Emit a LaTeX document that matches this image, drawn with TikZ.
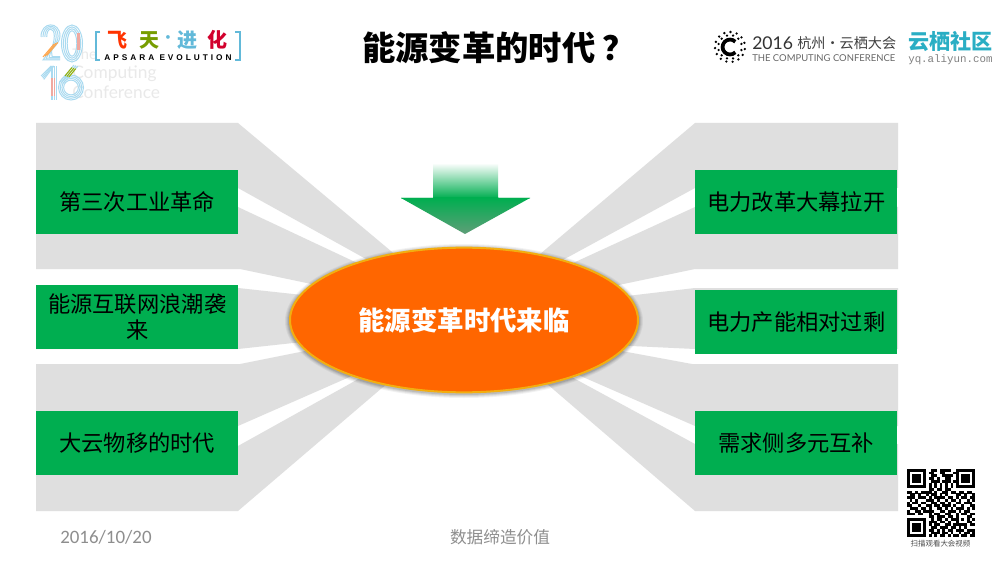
\documentclass[tikz,border=0pt]{standalone}
\usepackage{fontspec}
\setmainfont{Noto Sans CJK SC}
\newfontfamily\latinfont{Liberation Sans}
\newfontfamily\carlitofont{Carlito}
\newfontfamily\monofont{Liberation Mono}
\newfontfamily\latofont{Lato}
\usetikzlibrary{shapes.geometric}
\definecolor{graybg}{HTML}{DFDFDF}
\definecolor{boxgreen}{HTML}{00AE50}
\definecolor{arrowend}{HTML}{5F9E78}
\definecolor{orangefill}{HTML}{FF6600}
\definecolor{goldline}{HTML}{F2AE10}
\definecolor{footgray}{HTML}{8E8E8E}
\definecolor{digitblue}{HTML}{A9DAF0}
\definecolor{digitpink}{HTML}{F0A9A0}
\definecolor{brackblue}{HTML}{62B9D9}
\definecolor{teal}{HTML}{2AAEC4}
\definecolor{faint}{HTML}{E9E9E9}
\newcommand{\fsz}[1]{\fontsize{#1}{#1}\selectfont}
\newcount\qrcol
\newcount\qrrow
\makeatletter
\def\qrscan#1{\ifx#1\relax\else
  \ifx#11\fill[black] ({907+2.72*\the\qrcol},{469+2.72*\the\qrrow}) rectangle ++(2.76,2.76);\fi
  \global\advance\qrcol by 1
  \expandafter\qrscan\fi}
\def\qrline#1{\global\qrcol=0 \qrscan#1\relax\global\advance\qrrow by 1 }
\makeatother
\tikzset{
  x=0.75pt,y=-0.75pt,
  graywedge/.style={fill=graybg,draw=none},
  itembox/.style={rectangle,fill=boxgreen,draw=none,minimum width=151.5pt,minimum height=48pt,inner sep=0pt,align=center,text=black,font=\fsz{16.7},anchor=north west},
  digitline/.style={draw=digitblue,line width=0.75pt},
  pinkline/.style={draw=digitpink,line width=0.75pt},
}
\begin{document}
\begin{tikzpicture}
\useasboundingbox (0,0) rectangle (1000,563);
\fill[white] (0,0) rectangle (1000,563);
% left logo: faint text
\node[text=faint,font=\latofont\fsz{11},anchor=west,inner sep=0] (lgA) at (72,54) {The};
\node[text=faint,font=\latofont\fsz{13},anchor=west,inner sep=0] (lgB) at (72,74) {Computing};
\node[text=faint,font=\latofont\fsz{13},anchor=west,inner sep=0] (lgC) at (72,92) {Conference};
% digits
\foreach \d in {0,1.9,3.8,5.7}{
  \draw[digitline] (41+\d,37) .. controls (41+\d,21+\d) and (60-\d,21+\d) .. (60-\d,36) .. controls (60-\d,44) and (50,50) .. (43+\d*1.6,60-\d*0.6) -- (60,60-\d*0.6);
  \draw[digitline] (72,43.5) ellipse ({10.5-\d} and {18.5-\d});
  \draw[digitline] (51+\d,100) -- (51+\d,66);
  \draw[digitline] (41+\d*0.5,76+\d*0.6) -- (51+\d*0.5,66);
  \draw[digitline] (71,87.5) circle ({12.5-\d*0.9});
}
\foreach \d in {0,1.9,3.8}{
  \draw[pinkline] (77.5+\d*0.6,33) -- (77.5+\d*0.6,50);
  \draw[pinkline] (51+\d,96) -- (51+\d,78);
  \draw[draw=orange!70,line width=0.75pt] (43+\d,57-\d*0.4) -- (54+\d,44-\d*0.4);
  \draw[draw=digitblue,line width=0.75pt] (59.5+\d,82+\d*0.3) -- (74+\d,65+\d*0.3);
  \draw[draw=orange!60!green,line width=0.75pt] (65+\d,76+\d*0.3) -- (72+\d,67.5+\d*0.3);
}
% brackets
\draw[brackblue,line width=1.3pt] (100,32) -- (96,32) -- (96,60) -- (100,60);
\draw[brackblue,line width=1.3pt] (235,32) -- (240,32) -- (240,60) -- (235,60);
\node[font=\bfseries\fsz{15},text=red!60!orange,inner sep=0] (fei) at (117.5,40) {飞};
\node[font=\bfseries\fsz{15},text=green!45!orange!85!black,inner sep=0] (tian) at (149,40) {天};
\node[font=\bfseries\fsz{10},text=brackblue,inner sep=0] (dot) at (168,39) {·};
\node[font=\bfseries\fsz{15},text=brackblue,inner sep=0] (jin) at (187.5,40) {进};
\node[font=\bfseries\fsz{15},text=purple!70!red,inner sep=0] (hua) at (217,40) {化};
\node[font={\latinfont\bfseries\addfontfeature{LetterSpace=36}\fsz{6.2}},inner sep=0,text=black] (aps) at (168,57.5) {APSARA EVOLUTION};
% title
\node[font=\bfseries\fsz{25},text=black,inner sep=0,anchor=west] (title) at (362,48) {能源变革的时代\hspace{5pt}？};
% right logo
\foreach \a in {0,24,...,336}{\fill[black] (730,47) ++({\a+8}:15) circle (1.3);}
\foreach \a in {15,45,...,345}{\fill[black] (730,47) ++(\a:11.8) circle (1.3);}
\draw[black,line width=2.8pt] (730,47) ++(45:7.5) arc[start angle=-45,end angle=-315,radius=5.6pt];
\node[font=\latofont\fsz{13.2},text=black!80,anchor=west,inner sep=0] (yr) at (752,43) {2016};
\node[font=\fsz{10.6},text=black!75,anchor=west,inner sep=0] (hz) at (797,43) {杭州·云栖大会};
\node[font=\latofont\fsz{7.1},text=black!60,anchor=west,inner sep=0] (tcc) at (752,58.5) {THE COMPUTING CONFERENCE};
\node[font=\bfseries\fsz{15.8},text=teal,anchor=west,inner sep=0] (yq) at (908,42) {云栖社区};
\node[font=\monofont\fsz{8.1},text=black!50,anchor=west,inner sep=0] (url) at (908,60) {yq.aliyun.com};
% gray wedges left
\fill[graywedge] (36,123) -- (238,123) -- (410,267) -- (375,264) -- (238,188) -- (36,188) -- cycle;
\fill[graywedge] (36,207) -- (238,207) -- (370,269) -- (340,290) -- (240,269) -- (36,269) -- cycle;
\fill[graywedge] (36,288) -- (238,288) -- (330,298) -- (330,339) -- (238,349) -- (36,349) -- cycle;
\fill[graywedge] (36,364) -- (240,364) -- (340,344) -- (370,368) -- (238,426) -- (36,426) -- cycle;
\fill[graywedge] (36,446) -- (238,446) -- (380,367) -- (410,364) -- (238,511) -- (36,511) -- cycle;
% gray wedges right
\fill[graywedge] (898,123) -- (695,123) -- (520,271) -- (550,267) -- (695,188) -- (898,188) -- cycle;
\fill[graywedge] (898,207) -- (695,207) -- (560,269) -- (590,291) -- (695,269) -- (898,269) -- cycle;
\fill[graywedge] (898,288) -- (695,288) -- (610,298) -- (610,345) -- (695,349) -- (898,349) -- cycle;
\fill[graywedge] (898,364) -- (692,364) -- (600,347) -- (560,367) -- (695,426) -- (898,426) -- cycle;
\fill[graywedge] (898,444) -- (695,444) -- (555,368) -- (525,365) -- (695,511) -- (898,511) -- cycle;
% boxes
\node[itembox] (l1) at (36,170) {第三次工业革命};
\node[itembox] (l2) at (36,285) {能源互联网浪潮袭\\[3pt]来};
\node[itembox] (l3) at (36,411) {大云物移的时代};
\node[itembox] (r1) at (695,170) {电力改革大幕拉开};
\node[itembox] (r2) at (695,290) {电力产能相对过剩};
\node[itembox] (r3) at (695,411) {需求侧多元互补};
% arrow
\begin{scope}
\clip (433,163) -- (498,163) -- (498,198) -- (530,198) -- (465,234) -- (401,198) -- (433,198) -- cycle;
\shade[top color=white,bottom color=boxgreen] (400,163) rectangle (531,198.2);
\shade[top color=boxgreen,bottom color=arrowend] (400,198) rectangle (531,234);
\end{scope}
% ellipse shadow
\foreach \r/\o in {4/0.05,3/0.06,2/0.08,1/0.10}{
  \fill[black,opacity=\o] (464,321) ellipse ({175+\r} and {73+\r});
}
\node[ellipse,fill=orangefill,draw=goldline,line width=1.5pt,minimum width=261pt,minimum height=108.5pt,inner sep=0,text=white,font=\bfseries\fsz{19.8}] (hub) at (464,320) {能源变革时代来临};
% footer
\node[font=\carlitofont\fsz{14.2},text=footgray,anchor=west,inner sep=0] (date) at (60,537) {2016/10/20};
\node[font=\fsz{12.5},text=footgray,inner sep=0] (foot) at (500,537) {数据缔造价值};
% QR code
\qrrow=0
\qrline{1111111001101111001111111}
\qrline{1000001011001100011000001}
\qrline{1011101001100111101011101}
\qrline{1011101011010011001011101}
\qrline{1011101001110111011011101}
\qrline{1000001010101010101000001}
\qrline{1111111010101010101111111}
\qrline{0000000011011011000000000}
\qrline{1101011110100110110110110}
\qrline{0110100101101010001101001}
\qrline{1110111010111101101011011}
\qrline{0101000111010010110100101}
\qrline{1011011001101101001101110}
\qrline{1100100110110111010010011}
\qrline{0111011010011010101110101}
\qrline{1001101111001101110101100}
\qrline{1110110010110011001011011}
\qrline{0000000011011101101000110}
\qrline{1111111001011010111010101}
\qrline{1000001011101101001000110}
\qrline{1011101010110011011111011}
\qrline{1011101001101110110101000}
\qrline{1011101011010101101110111}
\qrline{1000001001110110100101101}
\qrline{1111111010101101011011011}
\node[font=\fsz{5.6},text=black!70,inner sep=0] (qrcap) at (940.5,544) {扫描观看大会视频};
\end{tikzpicture}
\end{document}
